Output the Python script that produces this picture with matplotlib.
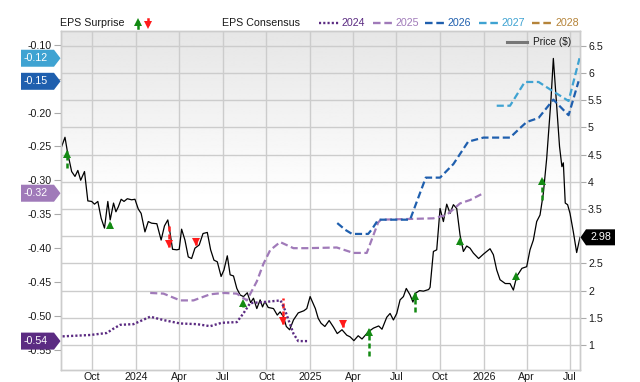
import numpy as np
import matplotlib
matplotlib.use('Agg')
import matplotlib.pyplot as plt
import matplotlib.dates as mdates
import matplotlib.transforms as mtransforms
from matplotlib.patches import Polygon
from matplotlib.lines import Line2D
from matplotlib.ticker import FixedLocator, FuncFormatter

plt.rcParams['font.family'] = ['Liberation Sans', 'DejaVu Sans']

# ---------------- data ----------------
start_date = '2023-07-27'
end_date = '2026-07-22'

# price: days since start_date, price in $
price_days = [2, 9, 14, 23, 30, 36, 42, 50, 57, 65,
              71, 78, 85, 92, 99, 104, 111, 116, 121, 127,
              133, 140, 149, 156, 163, 169, 177, 184, 191, 202,
              211, 218, 225, 230, 235, 244, 249, 254, 261, 268,
              275, 282, 291, 299, 308, 315, 322, 329, 337, 343,
              350, 356, 363, 370, 377, 384, 392, 399, 405, 412,
              419, 424, 429, 436, 447, 455, 461, 468, 474, 481,
              489, 499, 511, 517, 524, 535, 541, 547, 555, 564,
              573, 581, 591, 601, 608, 616, 625, 633, 646, 657,
              668, 675, 685, 692, 699, 706, 713, 720, 726, 734,
              740, 745, 754, 762, 773, 776, 783, 790, 797, 804,
              811, 818, 825, 832, 839, 846, 853, 860, 867, 878,
              888, 902, 909, 916, 923, 934, 944, 951, 958, 969,
              979, 986, 993, 1000, 1007, 1014, 1021, 1030, 1035, 1041,
              1048, 1053, 1056, 1060, 1065, 1070, 1077, 1084, 1091]
price_vals = [4.65, 4.82, 4.56, 4.19, 4.10, 4.21, 4.03, 4.19, 3.65, 3.64,
              3.59, 3.64, 3.33, 3.15, 3.64, 3.30, 3.61, 3.45, 3.54, 3.68,
              3.64, 3.69, 3.67, 3.68, 3.50, 3.42, 3.08, 3.27, 3.24, 3.23,
              2.93, 3.19, 3.30, 3.05, 2.76, 2.75, 2.76, 3.13, 2.93, 2.62,
              2.59, 2.78, 2.84, 3.05, 3.07, 2.75, 2.56, 2.53, 2.26, 2.38,
              2.64, 2.29, 2.27, 2.04, 1.92, 1.89, 1.96, 1.78, 1.86, 1.67,
              1.83, 1.70, 1.80, 1.69, 1.67, 1.55, 1.61, 1.52, 1.34, 1.28,
              1.46, 1.59, 1.63, 1.67, 1.89, 1.67, 1.49, 1.40, 1.34, 1.45,
              1.33, 1.21, 1.28, 1.18, 1.15, 1.08, 1.17, 1.11, 1.24, 1.31,
              1.35, 1.29, 1.51, 1.58, 1.46, 1.58, 1.83, 1.89, 2.04, 1.92,
              1.79, 1.95, 2.00, 1.99, 2.02, 2.06, 2.72, 2.75, 3.51, 3.27,
              3.59, 3.42, 3.58, 3.51, 3.02, 2.72, 2.82, 2.78, 2.69, 2.59,
              2.67, 2.77, 2.66, 2.38, 2.20, 2.13, 2.13, 2.01, 2.26, 2.41,
              2.44, 2.75, 2.93, 3.27, 3.39, 3.79, 4.43, 5.51, 6.27, 5.51,
              4.65, 4.28, 4.35, 3.61, 3.58, 3.42, 3.08, 2.70, 2.98]

# EPS consensus per fiscal year
eps2024_days = [4, 62, 97, 110, 125, 153, 188, 216, 251, 286, 314, 338, 370, 384, 398, 433, 462, 471, 489, 499, 522]
eps2024_vals = [-0.530, -0.528, -0.525, -0.519, -0.513, -0.512, -0.501, -0.506, -0.511, -0.512, -0.515,
                -0.510, -0.509, -0.496, -0.481, -0.479, -0.477, -0.491, -0.526, -0.537, -0.537]

eps2025_days = [188, 216, 251, 279, 314, 342, 370, 391, 412, 426, 440, 461, 489, 517, 580, 615, 643, 667, 673,
                783, 811, 839, 860, 888]
eps2025_vals = [-0.466, -0.467, -0.477, -0.477, -0.468, -0.466, -0.467, -0.477, -0.449, -0.423, -0.403, -0.391,
                -0.400, -0.400, -0.399, -0.407, -0.407, -0.362, -0.358, -0.356, -0.351, -0.334, -0.329, -0.319]

eps2026_days = [581, 598, 612, 646, 654, 667, 734, 767, 797, 825, 856, 888, 944, 965, 979, 1004, 1035, 1067, 1088]
eps2026_vals = [-0.363, -0.373, -0.379, -0.379, -0.372, -0.358, -0.358, -0.296, -0.296, -0.276, -0.243, -0.237,
                -0.237, -0.223, -0.214, -0.208, -0.181, -0.204, -0.154]

eps2027_days = [916, 944, 975, 1004, 1035, 1067, 1090]
eps2027_vals = [-0.190, -0.190, -0.155, -0.155, -0.169, -0.183, -0.120]

eps2028_days = []
eps2028_vals = []

# EPS surprises (drawn on the price scale)
surp_days = [14, 104, 228, 284, 382, 466, 594, 648, 745, 839, 957, 1012]
surp_top = [4.56, 3.27, 3.19, 2.96, 1.83, 1.86, 1.46, 1.30, 1.95, 2.96, 2.33, 4.08]
surp_bottom = [4.25, 3.15, 2.81, 2.84, 1.70, 1.39, 1.33, 0.79, 1.61, 2.84, 2.20, 3.67]
surp_dir = ['up', 'up', 'down', 'down', 'up', 'down', 'down', 'up', 'up', 'up', 'up', 'up']

years = ['2024', '2025', '2026', '2027', '2028']
price_ticks = [1, 1.5, 2, 2.5, 3, 3.5, 4, 4.5, 5, 5.5, 6, 6.5]
eps_ticks = [-0.55, -0.50, -0.45, -0.40, -0.35, -0.30, -0.25, -0.20, -0.15, -0.10]

# ---------------- style ----------------
c2024 = '#5b2b82'
c2025 = '#a07ab9'
c2026 = '#1f5fae'
c2027 = '#3fa3d2'
c2028 = '#b5843a'
green = '#138a13'
red = '#ff1a1a'
grid_c = '#cccccc'
txt_c = '#1a1a1a'
FS = 7.7

W, H = 640, 382
fig = plt.figure(figsize=(W / 100, H / 100), dpi=100)
ax = fig.add_axes([60.7 / W, 1 - 370 / H, (580 - 60.7) / W, (370 - 30.7) / H])
axE = ax.twinx()

x0 = mdates.date2num(np.datetime64(start_date))
x1 = mdates.date2num(np.datetime64(end_date))

def dx(days):
    return x0 + np.asarray(days, dtype=float)

# background gradient
grad = np.clip(np.linspace(0.90, 1.10, 256), 0, 1).reshape(-1, 1)
ax.imshow(grad, extent=[0, 1, 0, 1], transform=ax.transAxes, aspect='auto',
          cmap='gray', vmin=0, vmax=1, zorder=0, interpolation='bilinear')

# price line
ax.plot(dx(price_days), price_vals, color='black', lw=0.9, zorder=3)

# surprise arrows
up_off = mtransforms.offset_copy(ax.transData, fig=fig, x=0, y=-3.0, units='dots')
dn_off = mtransforms.offset_copy(ax.transData, fig=fig, x=0, y=3.0, units='dots')
for d, top, bot, kind in zip(surp_days, surp_top, surp_bottom, surp_dir):
    col = green if kind == 'up' else red
    xx = dx([d, d])
    ax.plot(xx, [bot, top], color=col, lw=1.8, ls=(0, (2.0, 1.2)), zorder=4,
            solid_capstyle='butt', dash_capstyle='butt')
    if kind == 'up':
        ax.plot(xx[:1], [top], marker='^', ms=5.5, color=col, mew=0, transform=up_off, zorder=5)
    else:
        ax.plot(xx[:1], [bot], marker='v', ms=5.5, color=col, mew=0, transform=dn_off, zorder=5)

# EPS consensus lines
axE.plot(dx(eps2024_days), eps2024_vals, color=c2024, lw=1.7, ls=(0, (0.9, 0.9)), zorder=3)
axE.plot(dx(eps2025_days), eps2025_vals, color=c2025, lw=1.6, ls=(0, (3.2, 1.6)), zorder=3)
axE.plot(dx(eps2026_days), eps2026_vals, color=c2026, lw=1.6, ls=(0, (3.2, 1.6)), zorder=3)
axE.plot(dx(eps2027_days), eps2027_vals, color=c2027, lw=1.6, ls=(0, (3.2, 1.6)), zorder=3)
if eps2028_days:
    axE.plot(dx(eps2028_days), eps2028_vals, color=c2028, lw=1.6, ls=(0, (3.2, 1.6)), zorder=3)

# limits
ax.set_xlim(x0, x1)
ax.set_ylim(0.54, 6.78)
axE.set_ylim(-0.5796, -0.0794)

# value boxes cover these tick labels in the original
last_price = price_vals[-1]
hidden_price = [t for t in price_ticks if abs(t - last_price) < 0.15]
hidden_eps = [t for t in eps_ticks if abs(t - eps2026_vals[-1]) < 0.01 or abs(t - eps2027_vals[-1]) < 0.01]

# axes styling
ax.yaxis.tick_right()
ax.yaxis.set_major_locator(FixedLocator(price_ticks))
ax.yaxis.set_major_formatter(FuncFormatter(lambda v, p: '' if any(abs(v - h) < 1e-9 for h in hidden_price) else f'{v:g}'))
ax.tick_params(axis='y', length=4.3, width=0.8, color='#aaaaaa', pad=1.5, labelsize=FS,
               labelcolor=txt_c, right=True, left=False)
ax.xaxis.set_major_locator(mdates.MonthLocator(bymonth=[1, 4, 7, 10]))
def xfmt(v, p):
    d = mdates.num2date(v)
    return str(d.year) if d.month == 1 else d.strftime('%b')
ax.xaxis.set_major_formatter(FuncFormatter(xfmt))
ax.tick_params(axis='x', length=0, pad=1.2, labelsize=FS, labelcolor=txt_c)
ax.grid(True, color=grid_c, lw=1.0, zorder=1)
ax.set_axisbelow(True)

axE.yaxis.tick_left()
axE.yaxis.set_major_locator(FixedLocator(eps_ticks))
axE.yaxis.set_major_formatter(FuncFormatter(lambda v, p: '' if any(abs(v - h) < 1e-9 for h in hidden_eps) else f'{v:.2f}'))
axE.tick_params(axis='y', length=4.8, width=0.8, color='#aaaaaa', pad=1.6, labelsize=FS,
                labelcolor=txt_c, left=True, right=False)
axE.tick_params(axis='x', length=0, labelbottom=False)

for a in (ax, axE):
    for s in a.spines.values():
        s.set_color(grid_c)
        s.set_linewidth(1.0)

# ---------------- annotations ----------------
ident = mtransforms.IdentityTransform()

def fx(px):
    return px / W

def fy(py):
    return 1 - py / H

# last-value boxes on the EPS axis
for vals, col in [(eps2027_vals, c2027), (eps2026_vals, c2026), (eps2025_vals, c2025), (eps2024_vals, c2024)]:
    v = vals[-1]
    yd = axE.transData.transform((x0, v))[1]
    hh = 8.5
    poly = Polygon([(21, yd - hh), (54, yd - hh), (60.5, yd), (54, yd + hh), (21, yd + hh)],
                   closed=True, facecolor=col, edgecolor='none', transform=ident, zorder=10)
    fig.add_artist(poly)
    fig.text(36, yd, f'{v:.2f}', transform=ident, ha='center', va='center',
             color='white', fontsize=FS, zorder=11)

# last price box
yd = ax.transData.transform((x1, last_price))[1]
hh = 8
poly = Polygon([(580.5, yd), (586, yd - hh), (615, yd - hh), (615, yd + hh), (586, yd + hh)],
               closed=True, facecolor='black', edgecolor='none', transform=ident, zorder=10)
fig.add_artist(poly)
fig.text(600.5, yd, f'{last_price:.2f}', transform=ident, ha='center', va='center',
         color='white', fontsize=FS, zorder=11)

# top legend
ly = 23
fig.text(fx(60.5), fy(ly), 'EPS Surprise', ha='left', va='center', fontsize=FS, color=txt_c)
# green up arrow
fig.add_artist(Line2D([fx(138), fx(138)], [fy(27.5), fy(22)], color=green, lw=1.8,
                      transform=fig.transFigure))
fig.add_artist(Line2D([fx(138)], [fy(21.5)], marker='^', ms=5.5, color=green, mew=0,
                      transform=fig.transFigure))
# red down arrow
fig.add_artist(Line2D([fx(147.5), fx(147.5)], [fy(18.5), fy(24)], color=red, lw=1.8,
                      transform=fig.transFigure))
fig.add_artist(Line2D([fx(147.5)], [fy(24.5)], marker='v', ms=5.5, color=red, mew=0,
                      transform=fig.transFigure))

fig.text(fx(222), fy(ly), 'EPS Consensus', ha='left', va='center', fontsize=FS, color=txt_c)
leg_cols = [c2024, c2025, c2026, c2027, c2028]
leg_styles = [(0, (0.9, 0.9)), (0, (3.2, 1.6)), (0, (3.2, 1.6)), (0, (3.2, 1.6)), (0, (3.2, 1.6))]
seg_x = [(319, 339), (373, 394), (425, 446), (479, 500), (532, 553)]
txt_x = [342, 396, 448, 502, 555]
for yr, col, st, (sa, sb), tx in zip(years, leg_cols, leg_styles, seg_x, txt_x):
    fig.add_artist(Line2D([fx(sa), fx(sb)], [fy(ly), fy(ly)], color=col, lw=1.7, ls=st,
                          transform=fig.transFigure))
    fig.text(fx(tx), fy(ly), yr, ha='left', va='center', fontsize=FS, color=col)

# price legend inside the plot
fig.add_artist(Line2D([fx(507), fx(527)], [fy(42), fy(42)], color='#777777', lw=2.2,
                      transform=fig.transFigure, zorder=6))
fig.text(fx(533), fy(42), 'Price ($)', ha='left', va='center', fontsize=7.3, color=txt_c, zorder=6)

fig.savefig('out.png', dpi=100)
